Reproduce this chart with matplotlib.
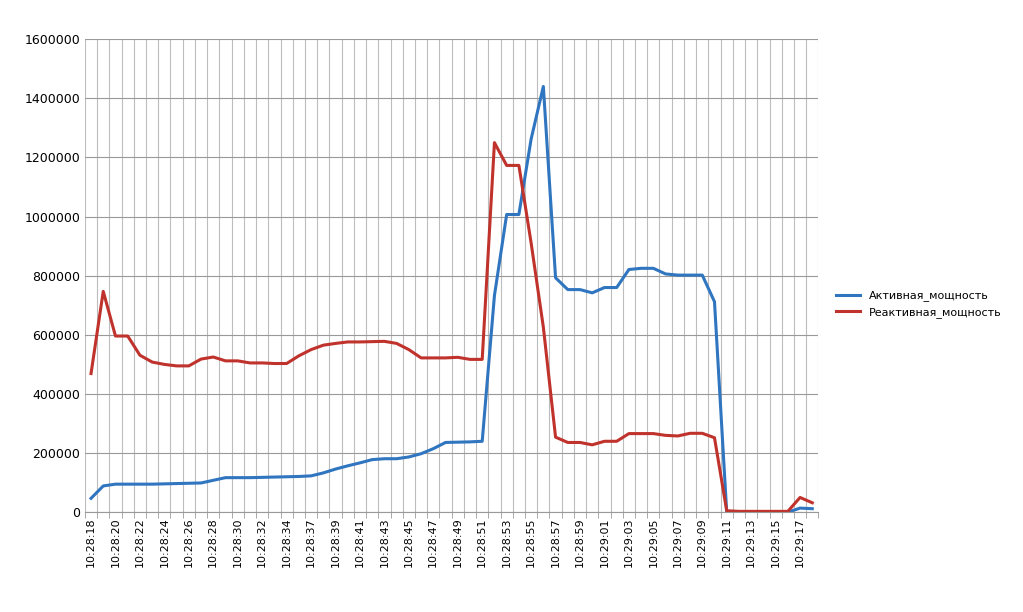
import matplotlib
matplotlib.use('Agg')
import matplotlib.pyplot as plt
import numpy as np

# Tick labels (every second sample is labelled)
tick_labels = ['10:28:18', '10:28:20', '10:28:22', '10:28:24', '10:28:26', '10:28:28',
               '10:28:30', '10:28:32', '10:28:34', '10:28:37', '10:28:39', '10:28:41',
               '10:28:43', '10:28:45', '10:28:47', '10:28:49', '10:28:51', '10:28:53',
               '10:28:55', '10:28:57', '10:28:59', '10:29:01', '10:29:03', '10:29:05',
               '10:29:07', '10:29:09', '10:29:11', '10:29:13', '10:29:15', '10:29:17']

active = [47000, 89000, 95000, 95000, 95000, 95000, 96000, 97000, 98000, 99000,
          108000, 117000, 117000, 117000, 118000, 119000, 120000, 121000, 123000, 133000,
          146000, 157000, 167000, 178000, 181000, 181000, 187000, 198000, 215000, 236000,
          237000, 238000, 240000, 733000, 1007000, 1007000, 1262000, 1440000, 793000, 753000,
          753000, 742000, 760000, 760000, 821000, 825000, 825000, 806000, 802000, 802000,
          802000, 712000, 0, 0, 0, 0, 0, 0, 14000, 12000]

reactive = [469000, 747000, 596000, 596000, 531000, 508000, 500000, 495000, 495000, 518000,
            525000, 512000, 512000, 505000, 505000, 503000, 503000, 529000, 550000, 565000,
            571000, 576000, 576000, 577000, 578000, 571000, 550000, 522000, 522000, 522000,
            524000, 517000, 517000, 1250000, 1173000, 1173000, 911000, 626000, 254000, 236000,
            236000, 228000, 240000, 240000, 266000, 266000, 266000, 260000, 258000, 267000,
            267000, 252000, 5000, 3000, 3000, 3000, 3000, 3000, 50000, 32000]

x = np.arange(len(active))

fig = plt.figure(figsize=(10.23, 6.12), dpi=100)
ax = fig.add_axes([0.083, 0.163, 0.717, 0.773])

ax.plot(x, active, color='#2f75c0', lw=2.2, label='Активная_мощность')
ax.plot(x, reactive, color='#c0322c', lw=2.2, label='Реактивная_мощность')

ax.set_xlim(-0.5, len(x) - 0.5)
ax.set_ylim(0, 1600000)
ax.set_yticks(np.arange(0, 1600001, 200000))
ax.set_yticklabels([str(v) for v in range(0, 1600001, 200000)], fontsize=9)
ax.set_xticks(x[::2])
ax.set_xticklabels(tick_labels, rotation=90, fontsize=8)
ax.set_xticks(np.arange(-0.5, len(x)), minor=True)
ax.tick_params(axis='x', which='major', length=0)
ax.tick_params(axis='x', which='minor', length=4, color='#999999')
ax.tick_params(axis='y', length=0)

ax.grid(True, axis='y', color='#999999', lw=0.8)
ax.grid(True, axis='x', which='minor', color='#bdbdbd', lw=0.8)
for s in ['top', 'right', 'left']:
    ax.spines[s].set_visible(False)
ax.spines['bottom'].set_color('#999999')
ax.set_axisbelow(True)

ax.legend(loc='center left', bbox_to_anchor=(1.01, 0.44), frameon=False, fontsize=8,
          handlelength=2.2)

fig.savefig('out.png')
